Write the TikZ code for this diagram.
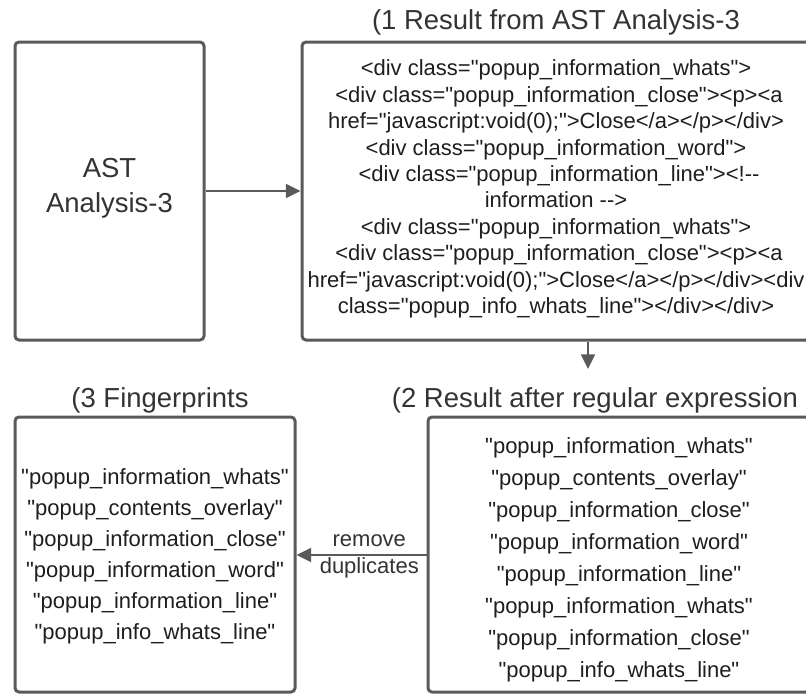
\documentclass[tikz,border=0pt]{standalone}
\usepackage{fontspec}
\setmainfont{Liberation Sans}[Ligatures=TeXOff]
\usetikzlibrary{arrows.meta,fit}
\definecolor{edge}{HTML}{5A5A5A}
\definecolor{txt}{HTML}{1E1E1E}
\definecolor{ttl}{HTML}{333333}
\tikzset{
  box/.style={draw=edge, line width=2.25pt, rounded corners=3pt, inner sep=0pt},
  arr/.style={draw=edge, line width=1.5pt, -{Triangle[length=11pt,width=10.5pt]}},
  titletext/.style={text=ttl, font=\fontsize{20.6pt}{25pt}\selectfont, inner sep=0pt},
  bodyB/.style={text=txt, align=center, inner sep=0pt, font=\fontsize{16.5pt}{19.8pt}\selectfont},
  bodyC/.style={text=txt, align=center, inner sep=0pt, font=\fontsize{16.5pt}{24pt}\selectfont},
  bodyD/.style={text=txt, align=center, inner sep=0pt, font=\fontsize{16.5pt}{23.3pt}\selectfont},
  lbl/.style={text=ttl, align=center, inner sep=0pt, font=\fontsize{16.5pt}{20.5pt}\selectfont}
}
\begin{document}
\begin{tikzpicture}[x=0.75pt,y=-0.75pt]
\useasboundingbox (0,0) rectangle (806,693);
\clip (0,0) rectangle (806,693);
% boxes
\node[box, fit={(15,42) (204,340)}] (A) {};
\node[box, fit={(302,42) (810,340)}] (B) {};
\node[box, fit={(428,417) (810,692)}] (C) {};
\node[box, fit={(15,417) (295,692)}] (D) {};
% box texts
\node[text=ttl, align=center, inner sep=0pt, font=\fontsize{20.6pt}{26pt}\selectfont] (At) at (109.5,188) {AST\\Analysis-3};
\node[bodyB] (Bt) at (556,189) {<div class="popup\_information\_whats">\\
\ <div class="popup\_information\_close"><p><a\\
href="javascript:void(0);">Close</a></p></div>\\
<div class="popup\_information\_word">\\
\ <div class="popup\_information\_line"><!-{}-\\
information -{}->\\
<div class="popup\_information\_whats">\\
\ <div class="popup\_information\_close"><p><a\\
href="javascript:void(0);">Close</a></p></div><div\\
class="popup\_info\_whats\_line"></div></div>};
\node[bodyC] (Ct) at (619,560) {"popup\_information\_whats"\\
"popup\_contents\_overlay"\\
"popup\_information\_close"\\
"popup\_information\_word"\\
"popup\_information\_line"\\
"popup\_information\_whats"\\
"popup\_information\_close"\\
"popup\_info\_whats\_line"};
\node[bodyD] (Dt) at (155,556) {"popup\_information\_whats"\\
"popup\_contents\_overlay"\\
"popup\_information\_close"\\
"popup\_information\_word"\\
"popup\_information\_line"\\
"popup\_info\_whats\_line"};
% titles
\node[titletext] (Bttl) at (556,22) {(1 Result from AST Analysis-3};
\node[titletext] (Cttl) at (595,400) {(2 Result after regular expression};
\node[titletext] (Dttl) at (160,400) {(3 Fingerprints};
% connectors
\draw[arr] (A.east) -- (B.west);
\coordinate (downtip) at (588,369);
\draw[arr] (downtip |- B.south) -- (downtip);
\coordinate (lefty) at (0,555);
\draw[arr] (C.west |- lefty) -- (D.east |- lefty) node[pos=0.44, lbl, yshift=-1pt] (rl) {remove\\duplicates};
\end{tikzpicture}
\end{document}
